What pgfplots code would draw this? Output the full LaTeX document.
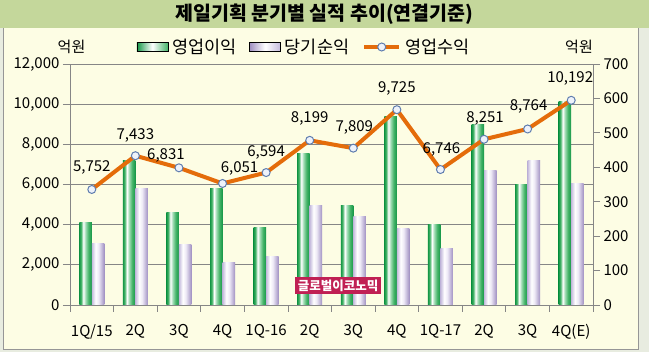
\documentclass[border=0pt]{standalone}
\usepackage{fontspec}
\setmainfont{Noto Sans CJK KR}
\usepackage{pgfplots}
\pgfplotsset{compat=1.18}
\usepackage{pgfplotstable}

\definecolor{titlebg}{RGB}{196,215,155}
\definecolor{plotbg}{RGB}{253,253,228}
\definecolor{outerbg}{RGB}{232,236,224}
\definecolor{framec}{RGB}{150,150,150}
\definecolor{gridc}{RGB}{134,134,134}
\definecolor{gdark}{RGB}{20,150,70}
\definecolor{gmid}{RGB}{70,180,105}
\definecolor{glite}{RGB}{160,220,180}
\definecolor{plight}{RGB}{196,186,220}
\definecolor{pdark}{RGB}{160,144,194}
\definecolor{pwhite}{RGB}{238,234,246}
\definecolor{lineor}{RGB}{228,108,10}
\definecolor{markb}{RGB}{95,125,175}
\definecolor{markf}{RGB}{238,242,250}
\definecolor{wm}{RGB}{192,32,84}

\pgfdeclarehorizontalshading{gshade}{100bp}{color(0bp)=(gdark); color(25bp)=(gdark); color(32bp)=(gmid); color(41bp)=(white); color(50bp)=(glite); color(62bp)=(gmid); color(75bp)=(gdark); color(100bp)=(gdark)}
\pgfdeclarehorizontalshading{pshade}{100bp}{color(0bp)=(plight); color(25bp)=(plight); color(40bp)=(white); color(52bp)=(pwhite); color(75bp)=(pdark); color(100bp)=(pdark)}

\newcommand{\fs}{\fontsize{15}{18}\selectfont}

\pgfplotstableread{
x rev dx dy
0 5752 0 22
1 7433 0 20
2 6831 -13 12.5
3 6051 17 14.5
4 6594 0 20.5
5 8199 0 21.5
6 7809 1 21
7 9725 0 21.5
8 6746 1 20
9 8251 1 21
10 8764 1 22.5
11 10192 -1 22
}\data

\pgfplotsset{common/.style={scale only axis, width=523pt, height=241pt,
  at={(70pt,47pt)}, anchor=south west, xmin=-0.5, xmax=11.5,
  /pgf/number format/1000 sep={,}, /pgf/number format/assume math mode=true,
  scaled y ticks=false, tick label style={font=\fs}},
  gbar/.style={ybar, bar width=12.5pt, bar shift=-6.25pt, draw=none, shading=gshade},
  pbar/.style={ybar, bar width=12.5pt, bar shift=6.25pt, draw=none, shading=pshade}}

\begin{document}
\begin{tikzpicture}
\fill[outerbg] (0pt,0pt) rectangle (649pt,352pt);
\filldraw[fill=plotbg, draw=framec, line width=1pt] (3pt,2.5pt) rectangle (638pt,324pt);
\fill[titlebg] (0pt,324pt) rectangle (649pt,352pt);
\node[font=\bfseries\fontsize{19.5}{21}\selectfont] at (324.5pt,338pt) {제일기획 분기별 실적 추이(연결기준)};
\node[font=\fs] at (71.5pt,305pt) {억원};
\node[font=\fs] at (579pt,305pt) {억원};

% axis 1: grid, left axis, categories
\begin{axis}[common, ymin=0, ymax=12000, ytick={0,2000,...,12000},
  ymajorgrids, grid style={gridc, line width=0.8pt},
  axis x line*=bottom, axis y line*=left,
  axis line style={gridc, line width=0.8pt, -},
  tick style={gridc, line width=0.8pt}, tick align=outside,
  major tick length=7pt, minor tick length=7pt,
  xtick={0,...,11},
  xticklabels={1Q/15,2Q,3Q,4Q,1Q-16,2Q,3Q,4Q,1Q-17,2Q,3Q,4Q(E)},
  major x tick style={draw=none},
  minor xtick={-0.5,0.5,...,11.5},
  xticklabel style={yshift=-9pt}]
\addplot[draw=none, forget plot] coordinates {(0,0)};
\end{axis}

% axis 2: bars, right axis
\begin{axis}[common, ymin=0, ymax=700, ytick={0,100,...,700},
  axis y line*=right, axis x line=none,
  axis line style={gridc, line width=0.8pt, -},
  tick style={gridc, line width=0.8pt}, tick align=outside,
  major tick length=7pt]
\addplot[gbar] coordinates {(0,241)};
\addplot[gbar] coordinates {(1,421)};
\addplot[gbar] coordinates {(2,270)};
\addplot[gbar] coordinates {(3,337)};
\addplot[gbar] coordinates {(4,224)};
\addplot[gbar] coordinates {(5,439)};
\addplot[gbar] coordinates {(6,288)};
\addplot[gbar] coordinates {(7,547)};
\addplot[gbar] coordinates {(8,233)};
\addplot[gbar] coordinates {(9,523)};
\addplot[gbar] coordinates {(10,351)};
\addplot[gbar] coordinates {(11,590)};
\addplot[pbar] coordinates {(0,180)};
\addplot[pbar] coordinates {(1,337)};
\addplot[pbar] coordinates {(2,177)};
\addplot[pbar] coordinates {(3,122)};
\addplot[pbar] coordinates {(4,142)};
\addplot[pbar] coordinates {(5,288)};
\addplot[pbar] coordinates {(6,256)};
\addplot[pbar] coordinates {(7,221)};
\addplot[pbar] coordinates {(8,163)};
\addplot[pbar] coordinates {(9,390)};
\addplot[pbar] coordinates {(10,419)};
\addplot[pbar] coordinates {(11,354)};
\end{axis}

% axis 3: line
\begin{axis}[common, ymin=0, ymax=12000, hide axis, clip=false,
  legend style={at={(0.127,1.0705)}, anchor=west, draw=none, fill=none,
    inner sep=0pt, font=\fontsize{17.5}{19}\selectfont, legend columns=3,
    nodes={inner xsep=4pt},
    /tikz/every even column/.append style={column sep=9pt}},
  legend cell align=left]
\addlegendimage{legend image code/.code={\fill[left color=gdark, right color=gmid, middle color=white] (0pt,-4.5pt) rectangle (31pt,4.5pt);}}
\addlegendentry{영업이익}
\addlegendimage{legend image code/.code={\fill[left color=pdark, right color=plight, middle color=white] (0pt,-4.5pt) rectangle (31pt,4.5pt);}}
\addlegendentry{당기순익}
\addplot[lineor, line width=4pt, mark=*, mark size=4pt,
  mark options={fill=markf, draw=markb, line width=1pt},
  legend image code/.code={\draw[lineor,line width=4pt] (0pt,0pt)--(35pt,0pt); \draw[fill=markf,draw=markb,line width=1pt] (17.5pt,0pt) circle (4pt);},
  visualization depends on={\thisrow{dx} \as \dx},
  visualization depends on={\thisrow{dy} \as \dy},
  nodes near coords,
  every node near coord/.append style={font=\fs, text=black, anchor=center, xshift=\dx pt, yshift=\dy pt}]
  table[x=x, y=rev] {\data};
\addlegendentry{영업수익}
\end{axis}

\node[fill=wm, text=white, font=\bfseries\fontsize{12.5}{14}\selectfont, inner sep=3pt] at (338pt,66.5pt) {글로벌이코노믹};
\end{tikzpicture}
\end{document}
